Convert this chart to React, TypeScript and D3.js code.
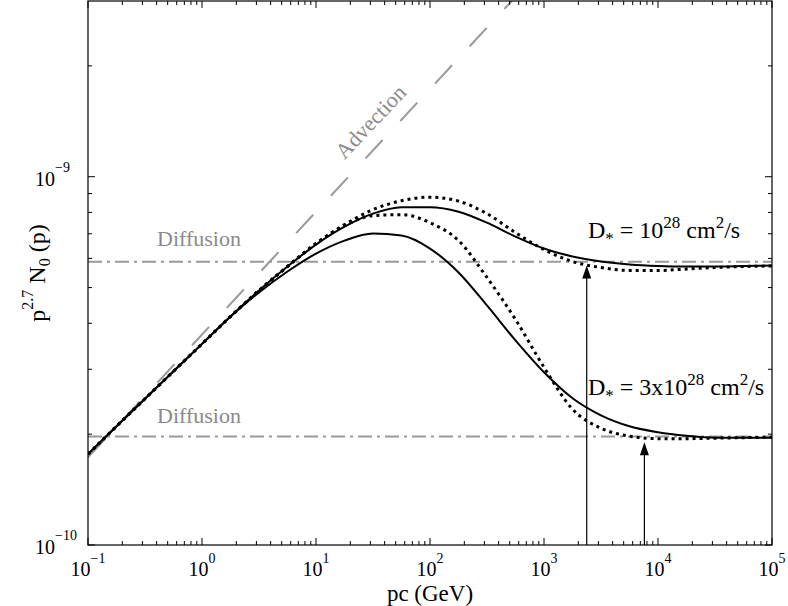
import React from 'react';
import * as d3 from 'd3';

const W = 788;
const H = 606;
const margin = { top: 1, right: 16, bottom: 61, left: 88 };
const FONT = '"Liberation Serif", "Times New Roman", serif';

// momentum pc in GeV
const pcGeV = [
  0.1, 0.178, 0.316, 0.562, 1, 1.78, 3.16, 5.62, 10, 17.8, 31.6, 56.2, 100,
  178, 316, 562, 1000, 1780, 3160, 5620, 10000, 17800, 31600, 56200, 100000,
];

// p^2.7 N0(p), in units of 1e-10
const solidD1 = [
  1.765, 2.101, 2.495, 2.962, 3.516, 4.174, 4.91, 5.704, 6.543, 7.318, 7.938,
  8.265, 8.265, 8.037, 7.503, 6.877, 6.382, 6.07, 5.884, 5.775, 5.722, 5.704,
  5.704, 5.722, 5.74,
];
const dottedD1 = [
  1.765, 2.101, 2.495, 2.962, 3.516, 4.174, 4.91, 5.704, 6.583, 7.41, 8.139,
  8.609, 8.798, 8.582, 7.938, 7.051, 6.342, 5.884, 5.668, 5.564, 5.564, 5.615,
  5.668, 5.704, 5.722,
];
const solidD3 = [
  1.765, 2.101, 2.495, 2.962, 3.516, 4.174, 4.849, 5.528, 6.184, 6.708, 7.007,
  6.921, 6.382, 5.494, 4.471, 3.594, 2.944, 2.503, 2.25, 2.101, 2.024, 1.98,
  1.956, 1.956, 1.956,
];
const dottedD3 = [
  1.765, 2.101, 2.495, 2.962, 3.516, 4.174, 4.91, 5.704, 6.583, 7.364, 7.84,
  7.889, 7.503, 6.708, 5.326, 4.098, 3.037, 2.337, 2.075, 1.975, 1.944, 1.944,
  1.95, 1.956, 1.962,
];

// reference lines (units of 1e-10)
const diffusionLevels = [5.88, 1.97];
const advectionPc = [0.1, 1000];
const advectionVals = [1.73, 37.3];

// arrows marking the transition momentum
const arrowPc = [2370, 7600];
const arrowTips = [5.74, 1.9];

const xTickExps = [-1, 0, 1, 2, 3, 4, 5];
const yTickExps = [-10, -9];

const E = 1e-10;

export default function App() {
  const iw = W - margin.left - margin.right;
  const ih = H - margin.top - margin.bottom;
  const x = d3.scaleLog().domain([0.1, 1e5]).range([margin.left, margin.left + iw]);
  const y = d3.scaleLog().domain([1e-10, 3e-9]).range([margin.top + ih, margin.top]);
  const x0 = margin.left;
  const x1 = margin.left + iw;
  const y0 = margin.top + ih;
  const y1 = margin.top;

  const line = d3
    .line<number>()
    .x((_, i) => x(pcGeV[i]))
    .y((d) => y(d * E))
    .curve(d3.curveMonotoneX);

  // ticks
  const xMinor: number[] = [];
  for (let e = -1; e < 5; e++) for (let k = 2; k <= 9; k++) xMinor.push(k * 10 ** e);
  const yMinor: number[] = [];
  for (let k = 2; k <= 9; k++) yMinor.push(k * 1e-10);
  yMinor.push(2e-9);

  const gray = '#999999';
  const textGray = '#8a8a8a';

  return (
    <svg
      width={W}
      height={H}
      style={{ position: 'absolute', left: 0, top: 0, background: '#fff' }}
      fontFamily={FONT}
    >
      <defs>
        <clipPath id="plot-clip">
          <rect x={x0} y={y1} width={iw} height={ih} />
        </clipPath>
      </defs>

      <g clipPath="url(#plot-clip)">
        {/* advection asymptote */}
        <line
          x1={x(advectionPc[0])}
          y1={y(advectionVals[0] * E)}
          x2={x(advectionPc[1])}
          y2={y(advectionVals[1] * E)}
          stroke={gray}
          strokeWidth={2}
          strokeDasharray="25 26"
        />
        {/* diffusion asymptotes */}
        {diffusionLevels.map((v, i) => (
          <line
            key={i}
            x1={x0}
            x2={x1}
            y1={y(v * E)}
            y2={y(v * E)}
            stroke={gray}
            strokeWidth={2}
            strokeDasharray="14 5 3 5"
          />
        ))}
        {/* curves */}
        <path d={line(solidD1) || ''} fill="none" stroke="#000" strokeWidth={2} />
        <path d={line(solidD3) || ''} fill="none" stroke="#000" strokeWidth={2} />
        <path
          d={line(dottedD1) || ''}
          fill="none"
          stroke="#000"
          strokeWidth={3}
          strokeDasharray="3 4"
        />
        <path
          d={line(dottedD3) || ''}
          fill="none"
          stroke="#000"
          strokeWidth={3}
          strokeDasharray="3 4"
        />
        {/* arrows */}
        {arrowPc.map((p, i) => {
          const ax = x(p);
          const ty = y(arrowTips[i] * E);
          return (
            <g key={i}>
              <line x1={ax} x2={ax} y1={y0} y2={ty + 6} stroke="#000" strokeWidth={1.2} />
              <path d={`M${ax},${ty} L${ax - 4.5},${ty + 13} L${ax + 4.5},${ty + 13} Z`} fill="#000" />
            </g>
          );
        })}
      </g>

      {/* frame */}
      <rect x={x0} y={y1} width={iw} height={ih} fill="none" stroke="#000" strokeWidth={1.2} />

      {/* x ticks */}
      {xTickExps.map((e) => (
        <g key={e}>
          <line x1={x(10 ** e)} x2={x(10 ** e)} y1={y0} y2={y0 - 7} stroke="#000" />
          <line x1={x(10 ** e)} x2={x(10 ** e)} y1={y1} y2={y1 + 7} stroke="#000" />
          <text x={x(10 ** e)} y={576} textAnchor="middle" fontSize={20}>
            <tspan>10</tspan>
            <tspan dy={-13} fontSize={14}>
              {e < 0 ? `\u2212${-e}` : e}
            </tspan>
          </text>
        </g>
      ))}
      {xMinor.map((v) => (
        <g key={v}>
          <line x1={x(v)} x2={x(v)} y1={y0} y2={y0 - 4} stroke="#000" />
          <line x1={x(v)} x2={x(v)} y1={y1} y2={y1 + 4} stroke="#000" />
        </g>
      ))}

      {/* y ticks */}
      {yTickExps.map((e) => (
        <g key={e}>
          <line x1={x0} x2={x0 + 7} y1={y(10 ** e)} y2={y(10 ** e)} stroke="#000" />
          <line x1={x1} x2={x1 - 7} y1={y(10 ** e)} y2={y(10 ** e)} stroke="#000" />
          <text x={35} y={y(10 ** e) + 9} fontSize={20}>
            <tspan>10</tspan>
            <tspan dy={-14} fontSize={14}>{`\u2212${-e}`}</tspan>
          </text>
        </g>
      ))}
      {yMinor.map((v) => (
        <g key={v}>
          <line x1={x0} x2={x0 + 4} y1={y(v)} y2={y(v)} stroke="#000" />
          <line x1={x1} x2={x1 - 4} y1={y(v)} y2={y(v)} stroke="#000" />
        </g>
      ))}

      {/* axis labels */}
      <text x={(x0 + x1) / 2} y={601} textAnchor="middle" fontSize={23}>
        pc (GeV)
      </text>
      <text transform={`translate(45,${(y0 + y1) / 2}) rotate(-90)`} textAnchor="middle" fontSize={24}>
        <tspan>p</tspan>
        <tspan dy={-12} fontSize={16}>2.7</tspan>
        <tspan dy={12}> N</tspan>
        <tspan dy={5} fontSize={16}>0</tspan>
        <tspan dy={-5}> (p)</tspan>
      </text>

      {/* annotations */}
      <text x={x(0.403)} y={246} fill={textGray} fontSize={22}>
        Diffusion
      </text>
      <text x={x(0.403)} y={423} fill={textGray} fontSize={22}>
        Diffusion
      </text>
      <text
        transform={`translate(${x(33.6)},${y(13.66 * E)}) rotate(-46.7)`}
        textAnchor="middle"
        fill={textGray}
        fontSize={22}
      >
        Advection
      </text>

      <text x={x(2430)} y={238} fontSize={24}>
        <tspan>D</tspan>
        <tspan dy={6} fontSize={17}>*</tspan>
        <tspan dy={-6}> = 10</tspan>
        <tspan dy={-10} fontSize={17}>28</tspan>
        <tspan dy={10}> cm</tspan>
        <tspan dy={-10} fontSize={17}>2</tspan>
        <tspan dy={10}>/s</tspan>
      </text>
      <text x={x(2430)} y={395} fontSize={24}>
        <tspan>D</tspan>
        <tspan dy={6} fontSize={17}>*</tspan>
        <tspan dy={-6}> = 3x10</tspan>
        <tspan dy={-10} fontSize={17}>28</tspan>
        <tspan dy={10}> cm</tspan>
        <tspan dy={-10} fontSize={17}>2</tspan>
        <tspan dy={10}>/s</tspan>
      </text>
    </svg>
  );
}
